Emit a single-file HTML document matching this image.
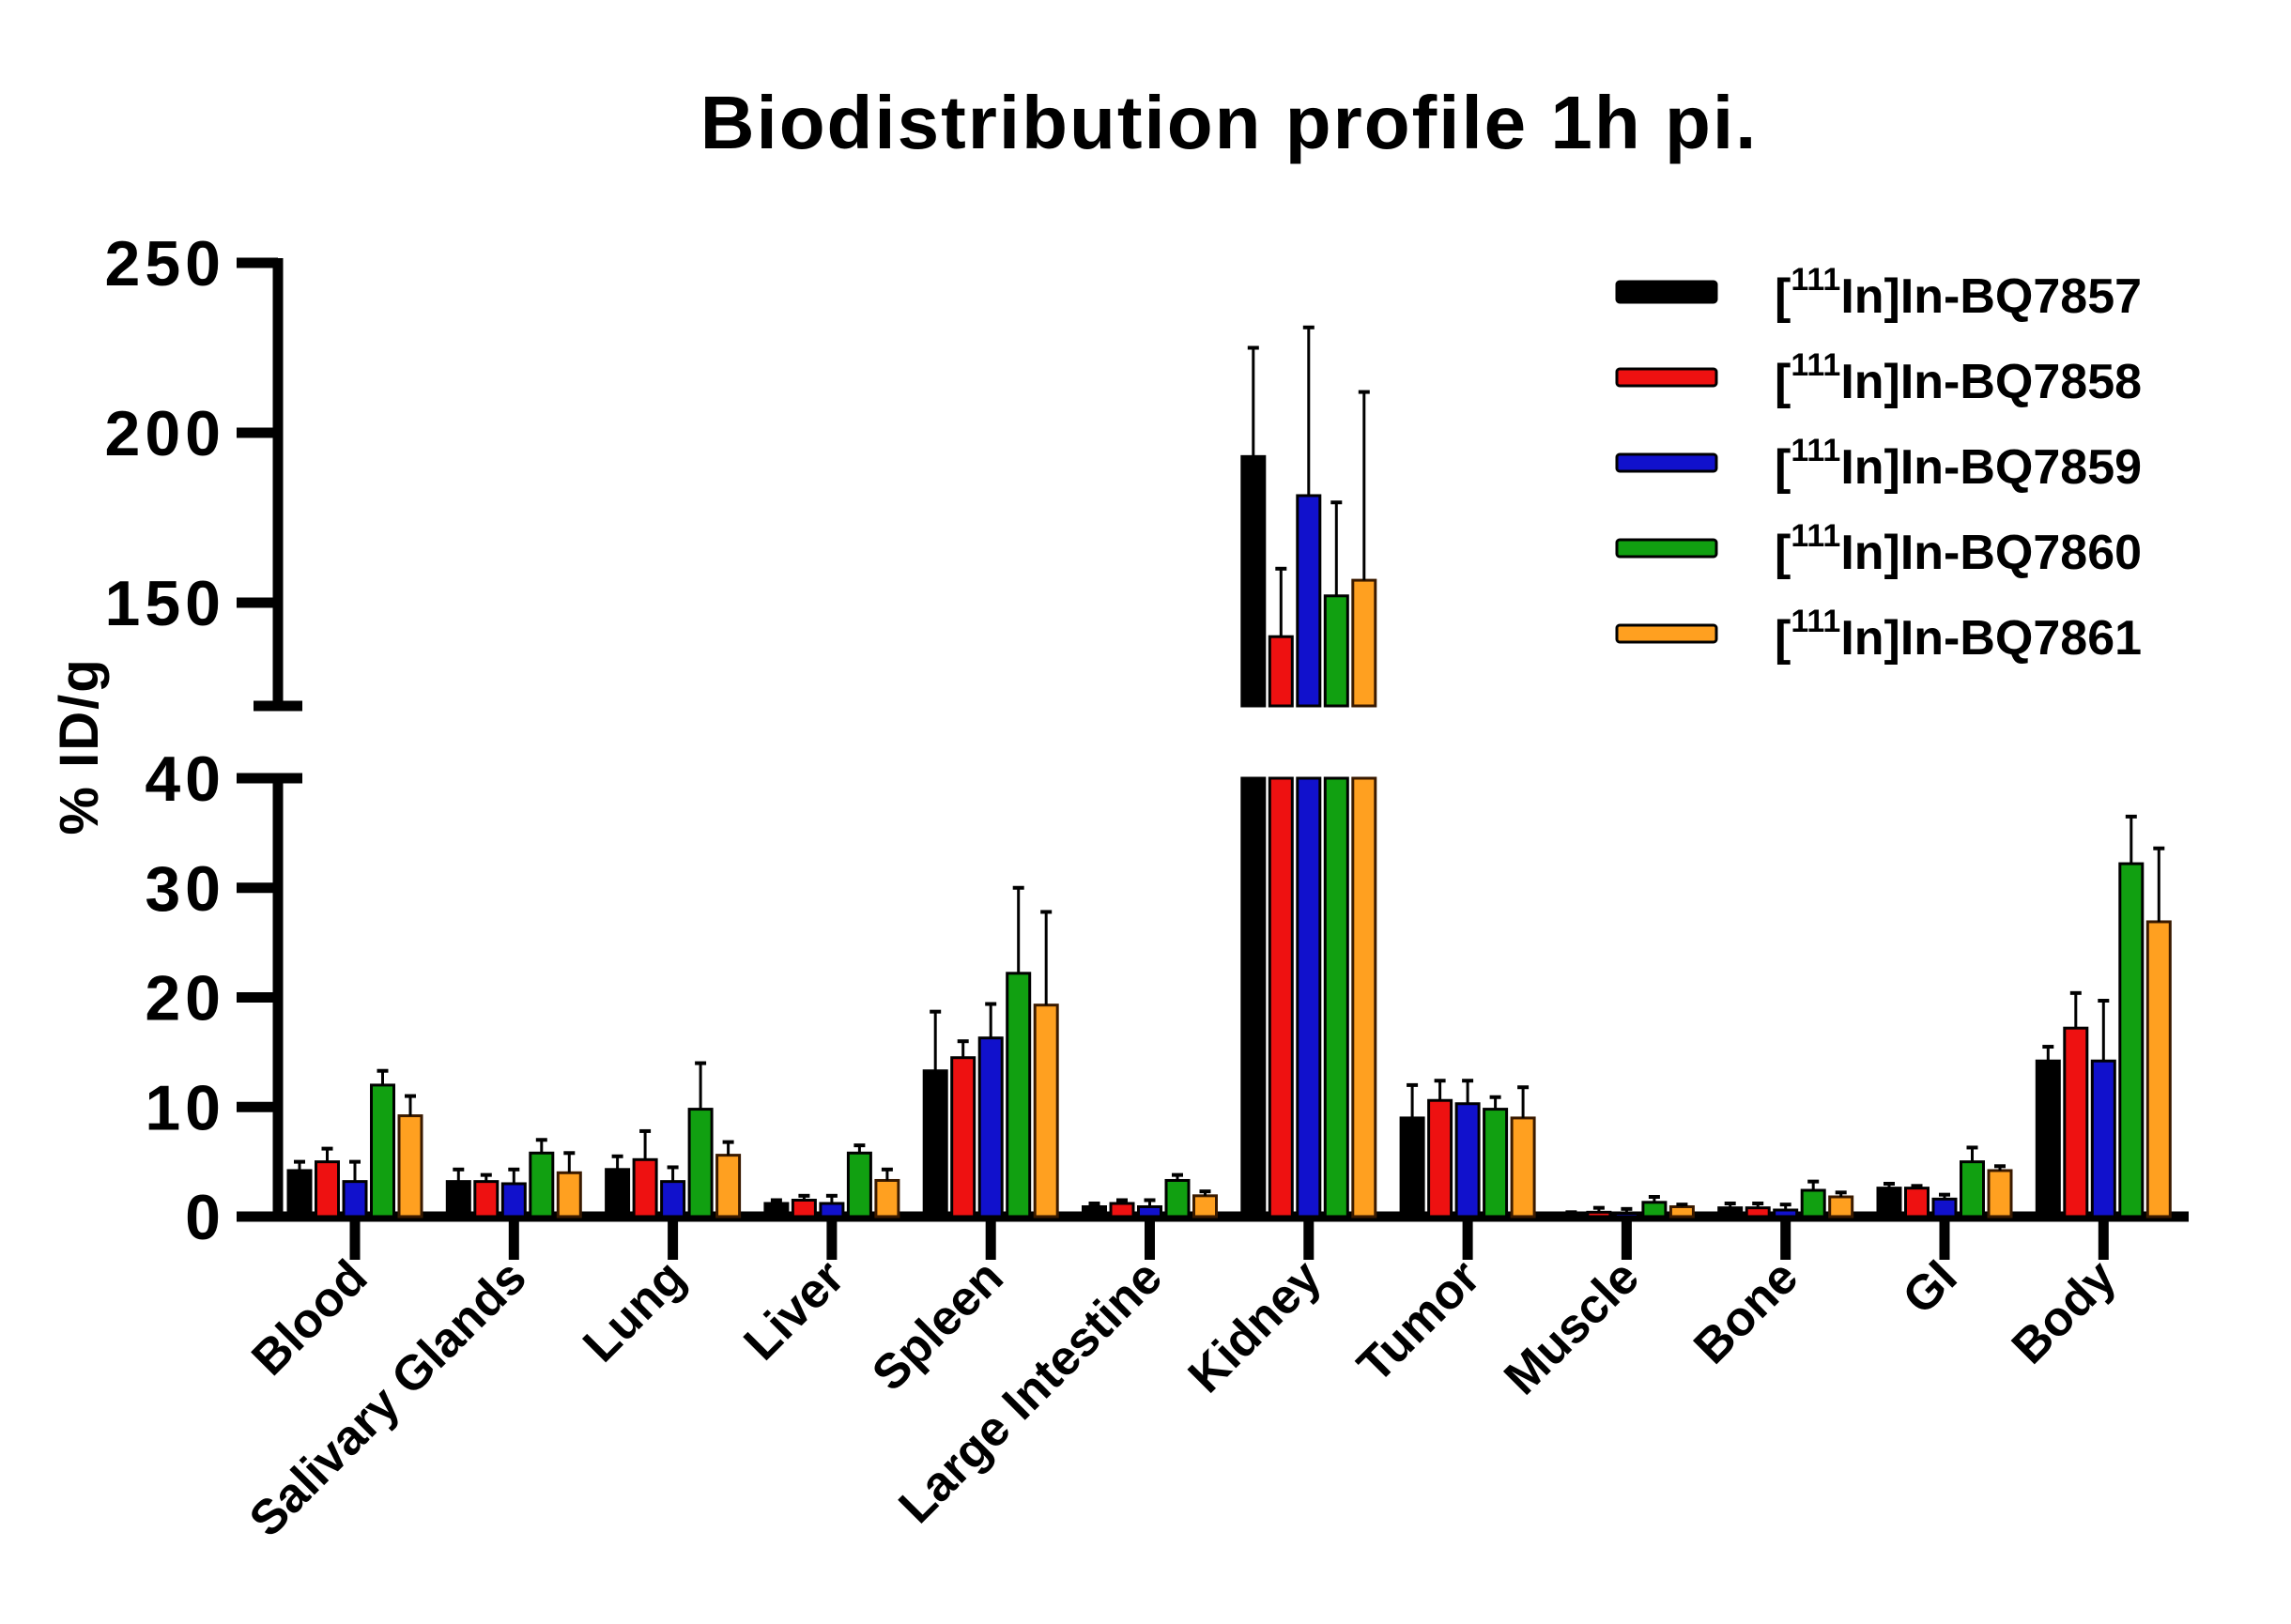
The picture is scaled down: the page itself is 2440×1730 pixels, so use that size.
<!DOCTYPE html>
<html><head><meta charset="utf-8"><style>
html,body{margin:0;padding:0;background:#fff;}
svg{display:block;font-family:"Liberation Sans",Arial,sans-serif;font-weight:bold;}
</style></head><body>
<svg id="chart" width="2440" height="1730" viewBox="0 0 2440 1730" xmlns="http://www.w3.org/2000/svg">
<text x="1309" y="158" font-size="80" letter-spacing="2" text-anchor="middle">Biodistribution profile 1h pi.</text>
<text transform="translate(104,795) rotate(-90)" font-size="58" letter-spacing="2" text-anchor="middle">% ID/g</text>
<g id="axes"></g>
<g id="bars"></g>
<g id="legend"></g>
</svg>
<script>
const categories = ["Blood","Salivary Glands","Lung","Liver","Spleen","Large Intestine","Kidney","Tumor","Muscle","Bone","GI","Body"];
const seriesNames = ["BQ7857","BQ7858","BQ7859","BQ7860","BQ7861"];
const seriesColors = ["#000000","#ee1111","#1111cc","#11a011","#ffa020"];
const s7857 = [4.2,3.2,4.3,1.2,13.3,0.9,193,9.0,0.2,0.8,2.6,14.2];
const s7858 = [5.0,3.2,5.2,1.5,14.5,1.2,140,10.6,0.4,0.8,2.6,17.2];
const s7859 = [3.2,3.0,3.2,1.2,16.3,0.9,181.5,10.3,0.3,0.6,1.6,14.2];
const s7860 = [12.0,5.8,9.8,5.8,22.2,3.3,152,9.8,1.3,2.4,5.0,32.2];
const s7861 = [9.2,4.0,5.6,3.3,19.3,1.9,156.6,9.0,0.9,1.8,4.2,26.9];
const e7857 = [0.8,1.1,1.2,0.3,5.4,0.3,32,3.0,0.2,0.4,0.4,1.3];
const e7858 = [1.2,0.6,2.6,0.4,1.5,0.3,20,1.8,0.4,0.4,0.2,3.2];
const e7859 = [1.8,1.3,1.3,0.7,3.1,0.6,49.5,2.1,0.4,0.5,0.4,5.5];
const e7860 = [1.3,1.2,4.2,0.7,7.8,0.5,27.5,1.1,0.5,0.8,1.3,4.3];
const e7861 = [1.8,1.8,1.2,1.0,8.5,0.4,55.4,2.8,0.2,0.4,0.4,6.7];
const lowerTicks = [0,10,20,30,40];
const upperTicks = [150,200,250];

const values = [s7857,s7858,s7859,s7860,s7861];
const errors = [e7857,e7858,e7859,e7860,e7861];
const NS="http://www.w3.org/2000/svg";
function mk(tag, attrs, parent){const e=document.createElementNS(NS,tag);for(const k in attrs)e.setAttribute(k,attrs[k]);parent.appendChild(e);return e;}
const AX=296, Y0=1296, lowPx=(1296-829)/40;
const Y250=280, upPx=(642-280)/100, BREAK=120, BREAKY=752;
function yLow(v){return Y0 - v*lowPx;}
function yUp(v){return Y250 + (250-v)*upPx;}
function xCat(i){return 378 + i*169.3;}
function xBar(i,s){return xCat(i) + (s-2)*29.5;}
const axes=document.getElementById('axes'), barsG=document.getElementById('bars'), leg=document.getElementById('legend');

let l;
l=mk('line',{x1:AX,y1:Y250-5,x2:AX,y2:BREAKY,stroke:'#000','stroke-width':11},axes);


l=mk('line',{x1:270,y1:BREAKY,x2:322,y2:BREAKY,stroke:'#000','stroke-width':11},axes);


l=mk('line',{x1:AX,y1:yLow(40),x2:AX,y2:Y0,stroke:'#000','stroke-width':11},axes);


l=mk('line',{x1:270,y1:yLow(40),x2:322,y2:yLow(40),stroke:'#000','stroke-width':11},axes);


l=mk('line',{x1:252,y1:Y0,x2:2331,y2:Y0,stroke:'#000','stroke-width':11},axes);



function ytick(y,label){
  const t=mk('line',{x1:252,y1:y,x2:AX,y2:y,stroke:'#000','stroke-width':11},axes);
  
  
  const tx=mk('text',{x:240,y:y+24,'font-size':68,'letter-spacing':5,'text-anchor':'end'},axes);
  tx.textContent=label;
  
  
}
lowerTicks.forEach(v=>ytick(yLow(v),v));
upperTicks.forEach(v=>ytick(yUp(v),v));

categories.forEach((c,i)=>{
  const x=xCat(i);
  const t=mk('line',{x1:x,y1:Y0,x2:x,y2:1342,stroke:'#000','stroke-width':11},axes);
  
  
  const tx=mk('text',{transform:`translate(${x+16},1364) rotate(-45)`,'font-size':52,'text-anchor':'end'},axes);
  tx.textContent=c;
  
  
});

const BW=24;
function errBar(x,yTop,yEnd){
  const g=mk('g',{},barsG);
  
  
  mk('line',{x1:x,y1:yTop,x2:x,y2:yEnd,stroke:'#000','stroke-width':3},g);
  mk('line',{x1:x-6,y1:yEnd,x2:x+6,y2:yEnd,stroke:'#000','stroke-width':4},g);
}
values.forEach((arr,s)=>{
  arr.forEach((v,i)=>{
    const x=xBar(i,s), e=errors[s][i];
    const col=seriesColors[s];
    const sc = s===4?'#3a1a00':'#000';
    if(v<=40){
      const yt=yLow(v);
      const r=mk('rect',{x:x-BW/2,y:yt,width:BW,height:Y0-yt,fill:col,stroke:sc,'stroke-width':3},barsG);
      
      
      errBar(x,yt,yLow(v+e));
    } else {
      const r1=mk('rect',{x:x-BW/2,y:yLow(40),width:BW,height:Y0-yLow(40),fill:col,stroke:sc,'stroke-width':3},barsG);
      
      
      const yt=yUp(v);
      const r2=mk('rect',{x:x-BW/2,y:yt,width:BW,height:BREAKY-yt,fill:col,stroke:sc,'stroke-width':3},barsG);
      
      
      errBar(x,yt,yUp(v+e));
    }
  });
});

seriesNames.forEach((n,s)=>{
  const y=311+s*91;
  const g=mk('g',{},leg);
  
  
  const h = s===0?22:18;
  mk('rect',{x:1722,y:y-h/2,width:106,height:h,rx:3,fill:seriesColors[s],stroke:'#000','stroke-width':3},g);
  const t=mk('text',{x:1890,y:y+22,'font-size':52},g);
  t.innerHTML='[<tspan font-size="34" dy="-24">111</tspan><tspan dy="24">In]In-'+n+'</tspan>';
});
</script>
</body></html>
